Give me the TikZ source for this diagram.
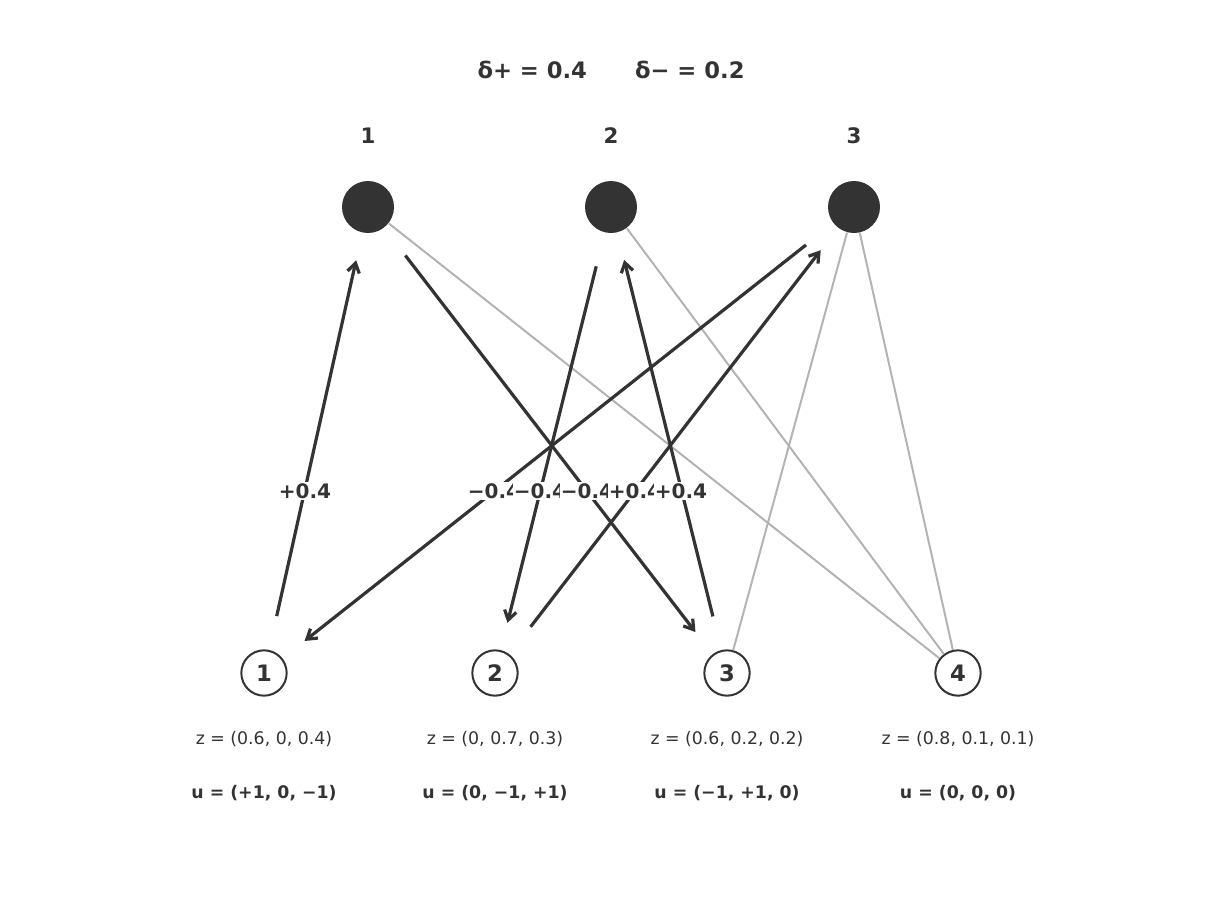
\documentclass[tikz,border=0pt]{standalone}
\usepackage{fontspec}
\setmainfont{DejaVu Sans}
\usetikzlibrary{arrows.meta}
\definecolor{ink}{RGB}{51,51,51}
\definecolor{pale}{RGB}{179,179,179}
\tikzset{every picture/.style={line width=0.75pt}}
\begin{document}
\begin{tikzpicture}[x=0.75pt,y=0.75pt,yscale=-1,xscale=1,
  top/.style={circle,fill=ink,minimum size=39pt,inner sep=0pt},
  bot/.style={circle,draw=ink,line width=1.5pt,fill=white,minimum size=34pt,inner sep=0pt,font=\fontsize{17}{20}\selectfont\bfseries,text=ink},
  flow/.style={ink,line width=2.4pt,-{Straight Barb[length=7pt,width=9pt]},shorten <=26pt,shorten >=21pt},
  link/.style={pale,line width=1.5pt},
  gain/.style={fill=white,inner sep=1pt,text=ink,font=\fontsize{15}{18}\selectfont\bfseries}]
\path[use as bounding box] (0,0) rectangle (1228,921);

% title
\node[text=ink,font=\fontsize{17}{20}\selectfont\bfseries] (title) at (611,70) {δ+ = 0.4\hspace{36pt}δ− = 0.2};

% upper nodes
\foreach \i/\x in {1/368,2/611,3/854}{
  \node[top] (t\i) at (\x,207) {};
  \node[text=ink,font=\fontsize{16}{19}\selectfont\bfseries] (tl\i) at (\x,136) {\i};
}

% lower nodes
\node[bot] (b1) at (264,673) {1};
\node[bot] (b2) at (495,673) {2};
\node[bot] (b3) at (727,673) {3};
\node[bot] (b4) at (958,673) {4};

% pale links
\draw[link] (t1) -- (b4);
\draw[link] (t2) -- (b4);
\draw[link] (t3) -- (b3);
\draw[link] (t3) -- (b4);

% moves
\draw[flow] (b1) -- (t1);
\draw[flow] (t1) -- (b3);
\draw[flow] (t2) -- (b2);
\draw[flow] (t3) -- (b1);
\draw[flow] (b2) -- (t3);
\draw[flow] (b3) -- (t2);

\node[gain] (g1) at (305,491) {+0.4};
\node[gain] (g2) at (494,491) {−0.4};
\node[gain] (g3) at (540,491) {−0.4};
\node[gain] (g4) at (587,491) {−0.4};
\node[gain] (g5) at (635,491) {+0.4};
\node[gain] (g6) at (681,491) {+0.4};

% captions
\foreach \n/\x/\z/\u in {1/264/{(0.6, 0, 0.4)}/{(+1, 0, −1)},2/495/{(0, 0.7, 0.3)}/{(0, −1, +1)},3/727/{(0.6, 0.2, 0.2)}/{(−1, +1, 0)},4/958/{(0.8, 0.1, 0.1)}/{(0, 0, 0)}}{
  \node[text=ink,font=\fontsize{13}{16}\selectfont] (z\n) at (\x,739) {z = \z};
  \node[text=ink,font=\fontsize{13}{16}\selectfont\bfseries] (u\n) at (\x,793) {u = \u};
}
\end{tikzpicture}
\end{document}
